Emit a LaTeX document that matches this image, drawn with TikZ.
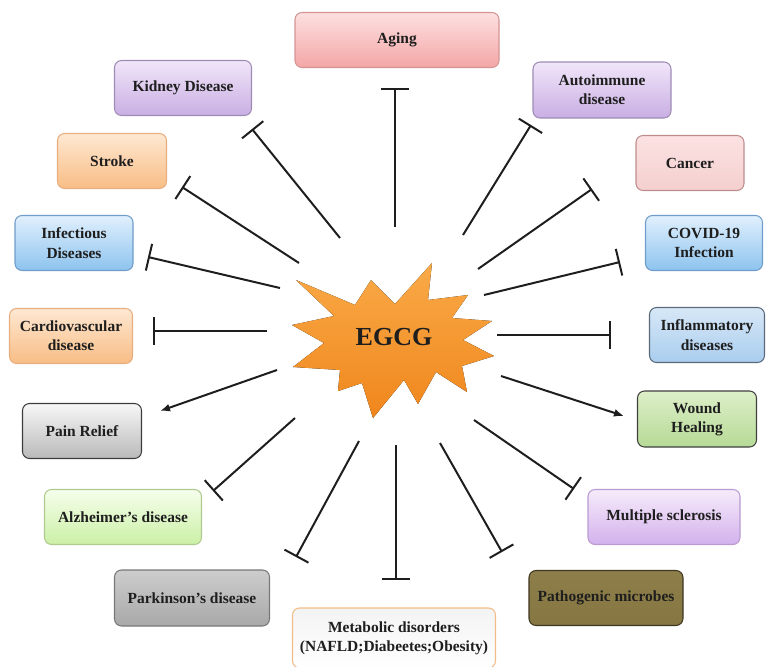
\documentclass[tikz,border=0pt]{standalone}
\usepackage{fontspec}
\setmainfont{Liberation Serif}
\usetikzlibrary{arrows.meta}

% colours of the boxes
\definecolor{pinktop}{HTML}{FDE0E0}  \definecolor{pinkbot}{HTML}{F4A6A6}  \definecolor{pinkline}{HTML}{D49494}
\definecolor{purptop}{HTML}{F1E6F9}  \definecolor{purpbot}{HTML}{C9AEE3}  \definecolor{purpline}{HTML}{9E8CB5}
\definecolor{orantop}{HTML}{FEE8D2}  \definecolor{oranbot}{HTML}{F8BD85}  \definecolor{oranline}{HTML}{E7AE80}
\definecolor{cantop}{HTML}{FBE2E2}   \definecolor{canbot}{HTML}{F5CFCF}   \definecolor{canline}{HTML}{BE8C8C}
\definecolor{bluetop}{HTML}{E1F0FD}  \definecolor{bluebot}{HTML}{8DC3EE}  \definecolor{blueline}{HTML}{6F9CC9}
\definecolor{inftop}{HTML}{D7E8F7}   \definecolor{infbot}{HTML}{A9CDEE}   \definecolor{infline}{HTML}{5A6A7A}
\definecolor{graytop}{HTML}{F7F7F7}  \definecolor{graybot}{HTML}{B9B9B9}  \definecolor{grayline}{HTML}{3C3C3C}
\definecolor{woundtop}{HTML}{DDEFC8} \definecolor{woundbot}{HTML}{B6DA96} \definecolor{woundline}{HTML}{3F3F3F}
\definecolor{alztop}{HTML}{F6FEEC}   \definecolor{alzbot}{HTML}{CBF0A6}   \definecolor{alzline}{HTML}{AFC98F}
\definecolor{mstop}{HTML}{F6ECFB}    \definecolor{msbot}{HTML}{D3B1EC}    \definecolor{msline}{HTML}{B99BD2}
\definecolor{parktop}{HTML}{CDCDCD}  \definecolor{parkbot}{HTML}{A8A8A8}  \definecolor{parkline}{HTML}{787878}
\definecolor{olivetop}{HTML}{8E7F4A} \definecolor{olivebot}{HTML}{857642} \definecolor{oliveline}{HTML}{3D3622}
\definecolor{metatop}{HTML}{F3F3F3}  \definecolor{metabot}{HTML}{FFFFFF}  \definecolor{metaline}{HTML}{F2BC88}
\definecolor{startop}{HTML}{F9AA48}  \definecolor{starbot}{HTML}{F0861C}
\definecolor{ink}{HTML}{1E1E1E}

\begin{document}
\begin{tikzpicture}[x=0.03cm, y=-0.03cm]

\def\u{0.03cm}   % one pixel of the original figure
\def\lw{1.7pt}   % width of the connectors
\def\barw{8.2mm} % width of the inhibition bar

\tikzset{box/.style = {draw, rounded corners=6pt, line width=0.9pt, align=center,
                       font=\fontsize{13.2}{16.5}\selectfont\bfseries, text=ink},
         boxsize/.style 2 args = {minimum width=#1*\u, minimum height=#2*\u, inner sep=1pt},
         boxcolor/.style n args = {3}{top color=#1, bottom color=#2, draw=#3},
         inhibit/.style = {line width=\lw, draw=ink, -{Bar[width=\barw, line width=\lw]}},
         promote/.style = {line width=\lw, draw=ink, -{Latex[length=3mm, width=2.4mm]}}
        }

\useasboundingbox (0,0) rectangle (766,666);

% EGCG star
\fill[top color=startop, bottom color=starbot]
    (296,280) -- (355,305) -- (371,280) -- (395,304) -- (432,263) -- (428,300)
 -- (468,295) -- (452,318) -- (492,321) -- (463,340) -- (494,356) -- (462,366)
 -- (467,392) -- (436,372) -- (418,404) -- (404,380) -- (373,418) -- (362,383)
 -- (338,391) -- (340,370) -- (293,367) -- (324,343) -- (292,325) -- (334,316) -- cycle;
\node[font=\fontsize{22.2}{24}\selectfont\bfseries, text=ink] (egcg) at (394,337) {EGCG};

% diseases, left side
\node[box, boxsize={137}{55}, boxcolor={purptop}{purpbot}{purpline}] (kidney) at (183,88) {Kidney Disease};
\node[box, boxsize={109}{55}, boxcolor={orantop}{oranbot}{oranline}] (stroke) at (112,161) {Stroke};
\node[box, boxsize={118}{55}, boxcolor={bluetop}{bluebot}{blueline}] (infect) at (74,243) {Infectious\\Diseases};
\node[box, boxsize={123}{55}, boxcolor={orantop}{oranbot}{oranline}] (cardio) at (71,336) {Cardiovascular\\disease};
\node[box, boxsize={119}{55}, boxcolor={graytop}{graybot}{grayline}] (pain) at (82,431) {Pain Relief};
\node[box, boxsize={157}{55}, boxcolor={alztop}{alzbot}{alzline}] (alz) at (123,517) {Alzheimer’s disease};
\node[box, boxsize={155}{56}, boxcolor={parktop}{parkbot}{parkline}] (park) at (192,598) {Parkinson’s disease};

% diseases, top and bottom
\node[box, boxsize={204}{55}, boxcolor={pinktop}{pinkbot}{pinkline}] (aging) at (397,40) {Aging};
\node[box, boxsize={203}{60}, boxcolor={metatop}{metabot}{metaline}] (metab) at (394,638)
    {Metabolic disorders\\(NAFLD;Diabeetes;Obesity)};

% diseases, right side
\node[box, boxsize={138}{56}, boxcolor={purptop}{purpbot}{purpline}] (autoimm) at (602,90) {Autoimmune\\disease};
\node[box, boxsize={108}{55}, boxcolor={cantop}{canbot}{canline}] (cancer) at (690,163) {Cancer};
\node[box, boxsize={117}{55}, boxcolor={bluetop}{bluebot}{blueline}] (covid) at (704,243) {COVID-19\\Infection};
\node[box, boxsize={115}{55}, boxcolor={inftop}{infbot}{infline}] (inflam) at (707,335) {Inflammatory\\diseases};
\node[box, boxsize={119}{56}, boxcolor={woundtop}{woundbot}{woundline}] (wound) at (697,419) {Wound\\Healing};
\node[box, boxsize={152}{55}, boxcolor={mstop}{msbot}{msline}] (ms) at (664,517) {Multiple sclerosis};
\node[box, boxsize={154}{55}, boxcolor={olivetop}{olivebot}{oliveline}] (patho) at (606,598) {Pathogenic microbes};

% end points of the connectors
\coordinate (aging-s) at (395,227);   \coordinate (aging-e) at (395,88);
\coordinate (kidney-s) at (340,238);  \coordinate (kidney-e) at (252,129);
\coordinate (stroke-s) at (299,263);  \coordinate (stroke-e) at (182,187);
\coordinate (infect-s) at (280,288);  \coordinate (infect-e) at (148,257);
\coordinate (cardio-s) at (267,331);  \coordinate (cardio-e) at (153,331);
\coordinate (pain-s) at (277,370);    \coordinate (pain-e) at (160,411);
\coordinate (alz-s) at (295,418);     \coordinate (alz-e) at (213,491);
\coordinate (park-s) at (359,441);    \coordinate (park-e) at (296,557);
\coordinate (metab-s) at (396,445);   \coordinate (metab-e) at (396,580);
\coordinate (patho-s) at (440,443);   \coordinate (patho-e) at (502,552);
\coordinate (ms-s) at (474,420);      \coordinate (ms-e) at (574,489);
\coordinate (wound-s) at (501,376);   \coordinate (wound-e) at (624,416);
\coordinate (inflam-s) at (497,335);  \coordinate (inflam-e) at (611,335);
\coordinate (covid-s) at (484,295);   \coordinate (covid-e) at (620,262);
\coordinate (cancer-s) at (478,269);  \coordinate (cancer-e) at (592,189);
\coordinate (autoimm-s) at (463,235); \coordinate (autoimm-e) at (531,125);

% inhibition
\draw[inhibit] (aging-s) -- (aging-e);
\draw[inhibit] (kidney-s) -- (kidney-e);
\draw[inhibit] (stroke-s) -- (stroke-e);
\draw[inhibit] (infect-s) -- (infect-e);
\draw[inhibit] (cardio-s) -- (cardio-e);
\draw[inhibit] (alz-s) -- (alz-e);
\draw[inhibit] (park-s) -- (park-e);
\draw[inhibit] (metab-s) -- (metab-e);
\draw[inhibit] (patho-s) -- (patho-e);
\draw[inhibit] (ms-s) -- (ms-e);
\draw[inhibit] (inflam-s) -- (inflam-e);
\draw[inhibit] (covid-s) -- (covid-e);
\draw[inhibit] (cancer-s) -- (cancer-e);
\draw[inhibit] (autoimm-s) -- (autoimm-e);

% promotion
\draw[promote] (pain-s) -- (pain-e);
\draw[promote] (wound-s) -- (wound-e);

\end{tikzpicture}
\end{document}
